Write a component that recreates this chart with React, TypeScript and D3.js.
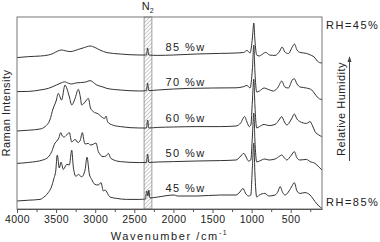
import React from "react";
import * as d3 from "d3";

const width = 380;
const height = 242;

// humidity series, top to bottom
const labels = ["85 %w", "70 %w", "60 %w", "50 %w", "45 %w"];
const offsets = [77.5, 60, 42, 24.5, 7];

// [wavenumber cm-1, intensity a.u.]
const trace85: [number, number][] = [
  [4000, -1.8], [3850, -1.3], [3700, -1], [3600, -0.5], [3535, 0.3], [3480, 1.5], [3430, 2],
  [3380, 1.6], [3320, 1.2], [3215, 2.3], [3140, 3.2], [3066, 4], [3000, 3.2], [2940, 2],
  [2850, 0.7], [2680, 0], [2430, -0.5], [2345, -0.5], [2330, 3], [2315, -0.5], [2200, -0.7],
  [2000, -0.5], [1700, 0], [1400, 0.3], [1200, 0.5], [1100, 0.8], [1060, 1.8], [1020, 0.5],
  [990, 8], [972, 15.5], [958, 7], [935, -0.5], [900, -1], [870, -0.3], [820, 0.8], [770, -0.5],
  [700, -0.7], [640, 1.5], [610, 3.5], [575, 1], [530, 0.2], [480, 3.5], [452, 5], [420, 2],
  [380, 0.8], [300, 0.3], [230, -0.8], [200, -1.5], [160, -3.5], [130, -4.3], [100, -4.5],
];

const trace70: [number, number][] = [
  [4000, -1.3], [3850, -1.2], [3706, -0.5], [3600, 0.3], [3540, 1.2], [3450, 2.8], [3390, 3.6],
  [3340, 2.8], [3300, 2.5], [3250, 3], [3190, 3.2], [3120, 3.5], [3066, 4.2], [2980, 2],
  [2900, 1], [2850, 0.3], [2680, -0.5], [2430, -1], [2345, -0.8], [2330, 3], [2315, -0.8],
  [2200, -0.5], [2000, 0], [1800, 0.3], [1500, 0.5], [1200, 0.6], [1100, 1.2], [1060, 1.8],
  [1020, 0.5], [990, 10], [972, 22], [958, 9], [935, -1.5], [900, -1], [840, 0.5], [800, 0],
  [720, -1], [660, 1], [615, 4], [575, 1], [530, 0.5], [480, 4.5], [455, 5.2], [420, 2.5],
  [380, 1], [300, 0.5], [230, -0.5], [200, -2], [160, -4], [130, -5], [100, -5.2],
];

const trace60: [number, number][] = [
  [4000, -3], [3850, -2.6], [3706, -2], [3640, -0.8], [3580, 2.5], [3540, 8], [3500, 12],
  [3472, 15.8], [3430, 12.5], [3386, 20], [3360, 18], [3330, 14], [3300, 10], [3260, 13],
  [3216, 17.8], [3190, 14], [3173, 10], [3130, 11.5], [3088, 13.3], [3060, 8.5], [3024, 6.7],
  [2960, 5.5], [2910, 3.8], [2880, 3.2], [2862, 4.5], [2840, 1.5], [2780, 0], [2680, -0.8],
  [2430, -1.5], [2345, -1.5], [2330, 2.5], [2315, -1.5], [2200, -1.2], [2000, -1], [1700, -0.8],
  [1400, -0.8], [1200, -0.5], [1140, 1], [1090, 4.2], [1060, 1.5], [1030, -0.8], [1010, 0],
  [990, 12], [972, 23], [958, 10], [935, -1.5], [900, -0.8], [840, 0.3], [780, -0.3],
  [700, 0.3], [650, 2.5], [615, 4.2], [580, 1.5], [550, 0], [490, 3], [454, 5.5], [420, 3],
  [381, 1.7], [300, 0.8], [253, 1.7], [220, -0.5], [189, -3.3], [140, -5], [100, -5.8],
];

const trace50: [number, number][] = [
  [4000, -1.7], [3850, -1.2], [3670, 0], [3600, 1.5], [3556, 4.2], [3514, 8.5], [3490, 9.5],
  [3465, 11], [3441, 13.7], [3420, 12], [3399, 11.5], [3365, 12.5], [3331, 13.7], [3300, 9],
  [3258, 10.3], [3220, 8.7], [3190, 10], [3165, 13.7], [3140, 9], [3130, 8], [3088, 8.3],
  [3060, 7.5], [3020, 8], [2990, 8.5], [2960, 4.2], [2900, 1.7], [2860, 2], [2832, 3.3],
  [2800, 0.8], [2680, -0.8], [2430, -1.3], [2345, -1.2], [2330, 3], [2315, -1.2], [2200, -1],
  [2000, -0.8], [1700, -0.5], [1400, -0.3], [1200, 0], [1150, 1.5], [1100, 3.3], [1070, 1.5],
  [1040, -0.5], [1010, 0], [990, 12], [972, 23.5], [958, 10], [935, -1], [900, -0.5],
  [830, 0.5], [780, 0], [700, 0.5], [640, 2], [615, 2.5], [580, 1], [551, 0], [490, 2.5],
  [454, 4.2], [420, 1], [381, 0], [300, 0.3], [253, -0.8], [189, -1.7], [140, -3.5], [100, -5],
];

const trace45: [number, number][] = [
  [4000, -3], [3850, -2.6], [3706, -2.2], [3640, -0.5], [3600, 1.2], [3560, 4], [3530, 8],
  [3505, 12], [3485, 20], [3459, 13.5], [3437, 16.4], [3408, 12.8], [3364, 15.3], [3331, 15],
  [3300, 22.4], [3280, 14], [3246, 9.3], [3216, 10.3], [3173, 9.1], [3130, 12.5], [3105, 18.9],
  [3075, 10.5], [3045, 7.8], [3003, 5.3], [2960, 5], [2926, 6.2], [2896, 2], [2875, 2.5],
  [2811, -1], [2725, -1.7], [2600, -2.2], [2430, -2.2], [2360, -2], [2340, 2], [2325, -0.5],
  [2315, 2.5], [2300, -1.5], [2200, -1], [1990, 0], [1950, -0.5], [1700, -0.5], [1400, 0],
  [1200, 0], [1150, 1.5], [1110, 3.3], [1080, 1], [1040, -0.5], [1010, 0], [990, 14],
  [972, 26], [958, 11], [935, -1], [900, 0], [830, 0.8], [780, -0.5], [700, 0], [660, 2],
  [637, 4.2], [600, 1], [573, 0], [490, 4], [454, 6.2], [420, 2], [381, 0.8], [317, 1.2],
  [253, 0], [189, -3.3], [140, -5.5], [100, -6.7],
];

const traces = [trace85, trace70, trace60, trace50, trace45];

const majorTicks = [4000, 3500, 3000, 2500, 2000, 1500, 1000, 500];
const minorTicks = [3750, 3250, 2750, 2250, 1750, 1250, 750, 250];
const n2Band = [2375, 2275];

const font = "'Liberation Sans', Arial, sans-serif";
const ink = "#222";
const frame = "#777";

export default function App() {
  const x = d3.scaleLinear().domain([4000, 100]).range([17, 322]);
  const y = d3.scaleLinear().domain([0, 96]).range([209, 17]);
  const [x0, x1] = x.range();
  const [yb, yt] = y.range();

  const xAxis = d3
    .axisBottom(x)
    .tickValues(majorTicks)
    .tickSize(4)
    .tickSizeOuter(0)
    .tickPadding(3)
    .tickFormat((d) => String(d));

  const minorAxis = d3
    .axisBottom(x)
    .tickValues(minorTicks)
    .tickSize(3)
    .tickSizeOuter(0)
    .tickFormat(() => "");

  return (
    <svg
      width={width}
      height={height}
      style={{ position: "absolute", left: 0, top: 0, background: "#fff" }}
    >
      <defs>
        <pattern
          id="hatch"
          width={2.8}
          height={2.8}
          patternUnits="userSpaceOnUse"
          patternTransform="rotate(45)"
        >
          <line x1={0} y1={0} x2={0} y2={2.8} stroke="#888" strokeWidth={0.9} />
        </pattern>
      </defs>

      {/* N2 band */}
      <rect
        x={x(n2Band[0])}
        y={yt}
        width={x(n2Band[1]) - x(n2Band[0])}
        height={yb - yt}
        fill="url(#hatch)"
        stroke="#888"
        strokeWidth={0.8}
      />

      {/* spectra */}
      {traces.map((t, i) => {
        const line = d3
          .line<[number, number]>()
          .x((d) => x(d[0]))
          .y((d) => y(d[1] + offsets[i]))
          .curve(d3.curveMonotoneX);
        return (
          <path key={i} d={line(t) || ""} fill="none" stroke="#333" strokeWidth={1} />
        );
      })}

      {labels.map((l, i) => (
        <text
          key={l}
          x={x(2100)}
          y={y(offsets[i]) - 3}
          fontFamily={font}
          fontSize={11}
          letterSpacing={1.4}
          fill={ink}
        >
          {l}
        </text>
      ))}

      {/* frame */}
      <rect x={x0} y={yt} width={x1 - x0} height={yb - yt} fill="none" stroke={frame} strokeWidth={1} />

      <g
        transform={`translate(0, ${yb})`}
        ref={(node) => {
          if (!node) return;
          const g = d3.select(node);
          g.call(xAxis);
          g.select(".domain").attr("stroke", "#555");
          g.selectAll(".tick line").attr("stroke", "#555");
          g.selectAll(".tick text")
            .attr("font-family", font)
            .attr("font-size", 10.5)
            .attr("letter-spacing", 0.4)
            .attr("fill", ink);
        }}
      />
      <g
        transform={`translate(0, ${yb})`}
        ref={(node) => {
          if (!node) return;
          const g = d3.select(node);
          g.call(minorAxis);
          g.select(".domain").remove();
          g.selectAll(".tick line").attr("stroke", "#555");
        }}
      />

      {/* axis titles */}
      <text
        x={(x0 + x1) / 2}
        y={240}
        textAnchor="middle"
        fontFamily={font}
        fontSize={11}
        letterSpacing={1.6}
        fill={ink}
      >
        Wavenumber /cm<tspan dy={-5} fontSize={7}>-1</tspan>
      </text>
      <text
        transform={`translate(10, ${(yt + yb) / 2}) rotate(-90)`}
        textAnchor="middle"
        fontFamily={font}
        fontSize={11}
        letterSpacing={0.5}
        fill={ink}
      >
        Raman Intensity
      </text>

      <text x={x(2330)} y={10} textAnchor="middle" fontFamily={font} fontSize={11} fill={ink}>
        N<tspan dy={3} fontSize={7}>2</tspan>
      </text>

      <text x={326} y={29} fontFamily={font} fontSize={11} letterSpacing={1.5} fill={ink}>
        RH=45%
      </text>
      <text x={326} y={206} fontFamily={font} fontSize={11} letterSpacing={1.5} fill={ink}>
        RH=85%
      </text>

      <text
        transform="translate(345, 109) rotate(-90)"
        textAnchor="middle"
        fontFamily={font}
        fontSize={11}
        letterSpacing={0.5}
        fill={ink}
      >
        Relative Humidity
      </text>
      <line x1={349.5} y1={161} x2={349.5} y2={60} stroke="#444" strokeWidth={1} />
      <path d="M349.5,56 L347.5,62 L351.5,62 Z" fill="#444" />
    </svg>
  );
}
